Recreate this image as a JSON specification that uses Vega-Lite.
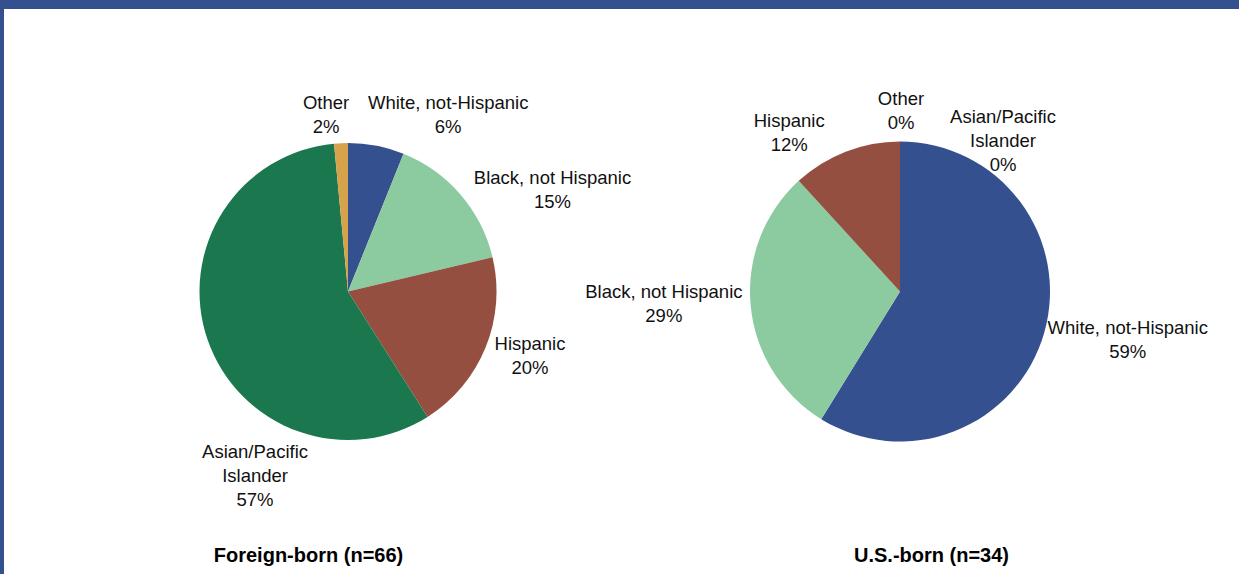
{
  "$schema": "https://vega.github.io/schema/vega-lite/v6.json",
  "width": 1235,
  "height": 565,
  "padding": {"top": 9, "left": 4, "right": 0, "bottom": 0},
  "background": "#35508F",
  "config": {
    "view": {"fill": "white", "stroke": null},
    "font": "Liberation Sans",
    "text": {"font": "Liberation Sans", "fontSize": 18.5, "lineHeight": 24, "lineBreak": "\n", "align": "center", "baseline": "middle", "color": "#111111", "radius": 190}
  },
  "data": {
    "values": [
      {"group": "Foreign-born (n=66)", "category": "White, not-Hispanic", "share": 6.1, "label": "White, not-Hispanic\n6%", "ord": 1},
      {"group": "Foreign-born (n=66)", "category": "Black, not Hispanic", "share": 15.2, "label": "Black, not Hispanic\n15%", "ord": 2},
      {"group": "Foreign-born (n=66)", "category": "Hispanic", "share": 19.7, "label": "Hispanic\n20%", "ord": 3},
      {"group": "Foreign-born (n=66)", "category": "Asian/Pacific Islander", "share": 57.5, "label": "Asian/Pacific\nIslander\n57%", "ord": 4},
      {"group": "Foreign-born (n=66)", "category": "Other", "share": 1.5, "label": "Other\n2%", "ord": 5},
      {"group": "U.S.-born (n=34)", "category": "White, not-Hispanic", "share": 58.8, "label": "White, not-Hispanic\n59%", "ord": 1},
      {"group": "U.S.-born (n=34)", "category": "Black, not Hispanic", "share": 29.4, "label": "Black, not Hispanic\n29%", "ord": 2},
      {"group": "U.S.-born (n=34)", "category": "Hispanic", "share": 11.8, "label": "Hispanic\n12%", "ord": 3},
      {"group": "U.S.-born (n=34)", "category": "Asian/Pacific Islander", "share": 0, "label": "Asian/Pacific\nIslander\n0%", "ord": 4},
      {"group": "U.S.-born (n=34)", "category": "Other", "share": 0, "label": "Other\n0%", "ord": 5}
    ]
  },
  "encoding": {
    "x": {
      "field": "group",
      "type": "nominal",
      "scale": {"type": "point", "domain": ["Foreign-born (n=66)", "U.S.-born (n=34)"], "range": [344, 896], "padding": 0},
      "axis": {
        "orient": "bottom",
        "title": null,
        "domain": false,
        "ticks": false,
        "grid": false,
        "labelAngle": 0,
        "labelPadding": -28.5,
        "labelFont": "Liberation Sans",
        "labelFontSize": 20,
        "labelFontWeight": "bold",
        "labelColor": "#000000",
        "labelLimit": 0,
        "labelOffset": {"condition": {"test": "datum.value === 'Foreign-born (n=66)'", "value": -40}, "value": 31}
      }
    },
    "theta": {"field": "share", "type": "quantitative", "stack": true},
    "order": {"field": "ord", "type": "quantitative"}
  },
  "layer": [
    {
      "transform": [{"filter": "datum.group === 'Foreign-born (n=66)'"}],
      "layer": [
        {
          "mark": {"type": "arc", "outerRadius": 148.5},
          "encoding": {
            "color": {
              "field": "category",
              "type": "nominal",
              "scale": {
                "domain": ["White, not-Hispanic", "Black, not Hispanic", "Hispanic", "Asian/Pacific Islander", "Other"],
                "range": ["#35508F", "#8BCB9F", "#954F41", "#1B774E", "#D6A24A"]
              },
              "legend": null
            }
          }
        },
        {"mark": {"type": "text", "dx": 64, "dy": -1.5}, "encoding": {"detail": {"field": "category"}, "text": {"condition": {"test": "datum.category === 'White, not-Hispanic'", "field": "label"}, "value": ""}}},
        {"mark": {"type": "text", "dx": 60.4, "dy": 9.9}, "encoding": {"detail": {"field": "category"}, "text": {"condition": {"test": "datum.category === 'Black, not Hispanic'", "field": "label"}, "value": ""}}},
        {"mark": {"type": "text", "dx": 6, "dy": -19.6}, "encoding": {"detail": {"field": "category"}, "text": {"condition": {"test": "datum.category === 'Hispanic'", "field": "label"}, "value": ""}}},
        {"mark": {"type": "text", "dx": 86.8, "dy": 99}, "encoding": {"detail": {"field": "category"}, "text": {"condition": {"test": "datum.category === 'Asian/Pacific Islander'", "field": "label"}, "value": ""}}},
        {"mark": {"type": "text", "dx": -13, "dy": 1.3}, "encoding": {"detail": {"field": "category"}, "text": {"condition": {"test": "datum.category === 'Other'", "field": "label"}, "value": ""}}}
      ]
    },
    {
      "transform": [{"filter": "datum.group === 'U.S.-born (n=34)'"}],
      "layer": [
        {
          "mark": {"type": "arc", "outerRadius": 150},
          "encoding": {
            "color": {
              "field": "category",
              "type": "nominal",
              "scale": {
                "domain": ["White, not-Hispanic", "Black, not Hispanic", "Hispanic", "Asian/Pacific Islander", "Other"],
                "range": ["#35508F", "#8BCB9F", "#954F41", "#1B774E", "#D6A24A"]
              },
              "legend": null
            }
          }
        },
        {"mark": {"type": "text", "dx": 45, "dy": -14.9}, "encoding": {"detail": {"field": "category"}, "text": {"condition": {"test": "datum.category === 'White, not-Hispanic'", "field": "label"}, "value": ""}}},
        {"mark": {"type": "text", "dx": -47, "dy": -16.9}, "encoding": {"detail": {"field": "category"}, "text": {"condition": {"test": "datum.category === 'Black, not Hispanic'", "field": "label"}, "value": ""}}},
        {"mark": {"type": "text", "dx": -42, "dy": 6.1}, "encoding": {"detail": {"field": "category"}, "text": {"condition": {"test": "datum.category === 'Hispanic'", "field": "label"}, "value": ""}}},
        {"mark": {"type": "text", "dx": 103, "dy": 15}, "encoding": {"detail": {"field": "category"}, "text": {"condition": {"test": "datum.category === 'Asian/Pacific Islander'", "field": "label"}, "value": ""}}},
        {"mark": {"type": "text", "dx": 1, "dy": -2.5}, "encoding": {"detail": {"field": "category"}, "text": {"condition": {"test": "datum.category === 'Other'", "field": "label"}, "value": ""}}}
      ]
    }
  ]
}
